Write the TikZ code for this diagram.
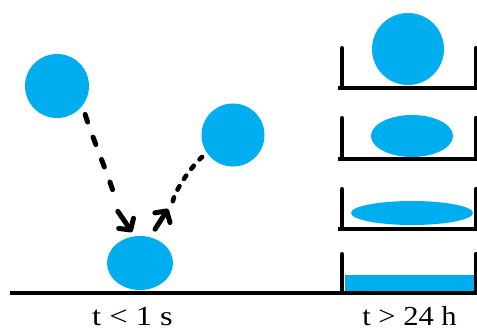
\documentclass[tikz,border=0pt]{standalone}
\usepackage{fontspec}
\setmainfont{Liberation Serif}
\usetikzlibrary{arrows.meta,calc,shapes.geometric}
\definecolor{water}{HTML}{00ADEF}
\begin{document}
\begin{tikzpicture}[x=1pt,y=-1pt,
  drop/.style={fill=water,draw=none,inner sep=0pt},
  ball/.style={drop,circle},
  blob/.style={drop,ellipse},
  wall/.style={line width=4pt,line cap=round},
  ground/.style={line width=4.5pt},
  trail/.style={line width=5pt,line cap=round},
  long dash/.style={trail,dash pattern=on 8pt off 16pt},
  short dash/.style={trail,line width=4.6pt,dash pattern=on 4pt off 8.5pt},
  tip/.style={trail,-{Straight Barb[length=8pt,width=18pt,line width=5pt,round]}},
  label/.style={inner sep=0pt,anchor=base,font=\fontsize{27.5}{30}\selectfont}
]
\useasboundingbox (0,0) rectangle (477,329);

% ---- bouncing drop (short time) ----
% (y runs downwards, so polar angles are measured clockwise)
\node[ball,minimum size=64pt] (c1) at (57,86) {};
\node[ball,minimum size=63pt] (c2) at (233,135) {};
\node[blob,minimum width=66pt,minimum height=54pt] (hit) at (140,263) {};

% falling: dashed trail, then a solid stroke with the head
\coordinate (a1s) at ($(c1.center)+(45.3:40)$);
\coordinate (a1m) at ($(hit.center)+(-111.2:64)$);
\coordinate (a1e) at ($(hit.center)+(-104.4:32)$);
\draw[long dash] (a1s) .. controls +(6,20) and +(-6,-22) .. (a1m);
\draw[tip] ($(a1m)+(1,8)$) -- (a1e);

% rebound: solid stroke with the head, then a short-dashed trail
\coordinate (a2s) at ($(hit.center)+(-66:37)$);
\coordinate (a2m) at ($(hit.center)+(-62.6:61)$);
\coordinate (a2d) at ($(hit.center)+(-62:70)$);
\coordinate (a2e) at ($(c2.center)+(144.6:38)$);
\draw[tip] (a2s) -- (a2m);
\draw[short dash] (a2d) .. controls +(3,-13) and +(-10,9) .. (a2e);

% ---- ground line ----
\draw[ground] (10,293) -- (477,293);

% ---- spreading drop in dishes (long time) ----
\foreach \top/\bot in {48/88,118/159,189/229,254/293}{
  \draw[wall] (342,\top) -- (342,\bot);
  \draw[wall] (475.5,\top) -- (475.5,\bot);
  \draw[line width=4pt] (338,\bot) -- (477,\bot);
}
\node[ball,minimum size=72pt] (s1) at (408,49) {};
\node[blob,minimum width=82pt,minimum height=42pt] (s2) at (412,136) {};
\node[blob,minimum width=122pt,minimum height=24pt] (s3) at (412,213) {};
\fill[water] (344.5,275) rectangle (473.5,291);

% ---- time labels ----
\node[label] (tshort) at (132.5,325.5) {\scalebox{1.18}[1]{t < 1 s}};
\node[label] (tlong) at (409.5,325.5) {\scalebox{1.11}[1]{t > 24 h}};
\end{tikzpicture}
\end{document}
